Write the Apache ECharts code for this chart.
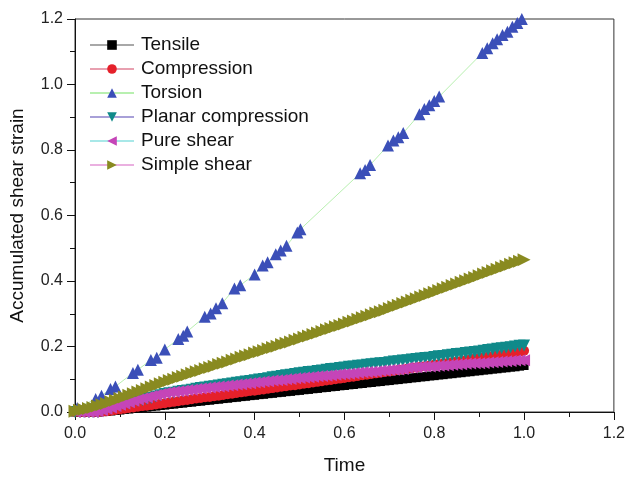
<!DOCTYPE html>
<html>
<head>
<meta charset="utf-8">
<script src="https://cdn.jsdelivr.net/npm/echarts@6/dist/echarts.min.js"></script>
<style>
	html, body { margin: 0; padding: 0; background: #fff; }
	#MyChart { width: 628px; height: 480px; }
</style>
</head>
<body>
<div id="MyChart"></div>
<script>
var time = [0.00, 0.01, 0.02, 0.03, 0.04, 0.05, 0.06, 0.07, 0.08, 0.09, 0.10,
	0.11, 0.12, 0.13, 0.14, 0.15, 0.16, 0.17, 0.18, 0.19, 0.20,
	0.21, 0.22, 0.23, 0.24, 0.25, 0.26, 0.27, 0.28, 0.29, 0.30,
	0.31, 0.32, 0.33, 0.34, 0.35, 0.36, 0.37, 0.38, 0.39, 0.40,
	0.41, 0.42, 0.43, 0.44, 0.45, 0.46, 0.47, 0.48, 0.49, 0.50,
	0.51, 0.52, 0.53, 0.54, 0.55, 0.56, 0.57, 0.58, 0.59, 0.60,
	0.61, 0.62, 0.63, 0.64, 0.65, 0.66, 0.67, 0.68, 0.69, 0.70,
	0.71, 0.72, 0.73, 0.74, 0.75, 0.76, 0.77, 0.78, 0.79, 0.80,
	0.81, 0.82, 0.83, 0.84, 0.85, 0.86, 0.87, 0.88, 0.89, 0.90,
	0.91, 0.92, 0.93, 0.94, 0.95, 0.96, 0.97, 0.98, 0.99, 1.00];

var tensile = [0, 0, 0, 0, 0, 0, 0.001, 0.002, 0.003, 0.005, 0.006,
	0.008, 0.009, 0.011, 0.012, 0.014, 0.015, 0.017, 0.018, 0.020, 0.021,
	0.023, 0.024, 0.026, 0.027, 0.029, 0.030, 0.032, 0.033, 0.035, 0.036,
	0.038, 0.039, 0.041, 0.042, 0.044, 0.045, 0.047, 0.048, 0.050, 0.051,
	0.053, 0.054, 0.056, 0.057, 0.059, 0.060, 0.062, 0.063, 0.065, 0.066,
	0.068, 0.069, 0.071, 0.072, 0.074, 0.075, 0.077, 0.078, 0.080, 0.081,
	0.083, 0.084, 0.086, 0.087, 0.089, 0.090, 0.092, 0.093, 0.095, 0.096,
	0.098, 0.099, 0.101, 0.102, 0.104, 0.105, 0.107, 0.108, 0.110, 0.111,
	0.113, 0.114, 0.116, 0.117, 0.119, 0.120, 0.122, 0.123, 0.125, 0.126,
	0.128, 0.129, 0.131, 0.132, 0.134, 0.135, 0.137, 0.138, 0.140, 0.142];

var compression = [0, 0, 0, 0, 0, 0, 0.001, 0.002, 0.004, 0.006, 0.008,
	0.010, 0.012, 0.014, 0.016, 0.018, 0.019, 0.021, 0.023, 0.025, 0.027,
	0.029, 0.031, 0.033, 0.035, 0.037, 0.039, 0.041, 0.043, 0.045, 0.046,
	0.048, 0.050, 0.052, 0.054, 0.056, 0.058, 0.060, 0.062, 0.064, 0.065,
	0.067, 0.069, 0.071, 0.073, 0.075, 0.077, 0.079, 0.081, 0.082, 0.084,
	0.086, 0.088, 0.090, 0.092, 0.094, 0.096, 0.098, 0.100, 0.102, 0.104,
	0.106, 0.108, 0.110, 0.112, 0.114, 0.116, 0.118, 0.120, 0.122, 0.124,
	0.126, 0.128, 0.130, 0.132, 0.134, 0.136, 0.138, 0.140, 0.142, 0.144,
	0.146, 0.148, 0.150, 0.152, 0.154, 0.156, 0.158, 0.161, 0.163, 0.165,
	0.167, 0.169, 0.171, 0.173, 0.175, 0.177, 0.179, 0.182, 0.184, 0.187];

var torsionTime = [0.005, 0.046, 0.059, 0.079, 0.090, 0.129, 0.140, 0.169, 0.182, 0.200,
	0.230, 0.241, 0.250, 0.289, 0.302, 0.314, 0.328, 0.355, 0.368, 0.400,
	0.418, 0.429, 0.447, 0.458, 0.471, 0.495, 0.502, 0.635, 0.646, 0.657,
	0.697, 0.709, 0.720, 0.731, 0.767, 0.778, 0.789, 0.800, 0.811, 0.907,
	0.918, 0.930, 0.940, 0.952, 0.963, 0.974, 0.985, 0.995];
var torsion = [0.012, 0.040, 0.050, 0.070, 0.078, 0.119, 0.129, 0.159, 0.166, 0.191,
	0.223, 0.233, 0.246, 0.291, 0.301, 0.317, 0.332, 0.377, 0.387, 0.420,
	0.447, 0.457, 0.482, 0.493, 0.508, 0.548, 0.558, 0.729, 0.739, 0.754,
	0.814, 0.829, 0.839, 0.852, 0.909, 0.925, 0.937, 0.950, 0.963, 1.096,
	1.111, 1.126, 1.138, 1.151, 1.161, 1.176, 1.188, 1.200];

var planar = [0, 0, 0, 0, 0, 0, 0.003, 0.007, 0.011, 0.015, 0.019,
	0.023, 0.027, 0.031, 0.034, 0.037, 0.040, 0.043, 0.047, 0.051, 0.055,
	0.057, 0.059, 0.062, 0.064, 0.066, 0.068, 0.071, 0.073, 0.075, 0.077,
	0.079, 0.081, 0.083, 0.085, 0.087, 0.089, 0.091, 0.093, 0.095, 0.097,
	0.099, 0.101, 0.103, 0.106, 0.108, 0.110, 0.112, 0.114, 0.116, 0.118,
	0.120, 0.122, 0.123, 0.125, 0.127, 0.129, 0.131, 0.132, 0.134, 0.136,
	0.138, 0.139, 0.141, 0.142, 0.144, 0.146, 0.147, 0.149, 0.150, 0.152,
	0.154, 0.155, 0.157, 0.158, 0.160, 0.162, 0.163, 0.165, 0.166, 0.168,
	0.170, 0.171, 0.173, 0.175, 0.177, 0.178, 0.180, 0.182, 0.183, 0.185,
	0.187, 0.189, 0.191, 0.193, 0.195, 0.196, 0.198, 0.200, 0.202, 0.203];

var pureShear = [0, 0, 0, 0, 0, 0.002, 0.006, 0.010, 0.014, 0.018, 0.022,
	0.026, 0.030, 0.034, 0.038, 0.042, 0.045, 0.049, 0.052, 0.055, 0.058,
	0.060, 0.062, 0.063, 0.065, 0.067, 0.068, 0.070, 0.072, 0.073, 0.075,
	0.076, 0.078, 0.079, 0.081, 0.082, 0.084, 0.085, 0.087, 0.088, 0.090,
	0.091, 0.093, 0.094, 0.096, 0.097, 0.098, 0.100, 0.101, 0.103, 0.104,
	0.105, 0.106, 0.108, 0.109, 0.110, 0.111, 0.112, 0.114, 0.115, 0.116,
	0.117, 0.118, 0.120, 0.121, 0.122, 0.123, 0.124, 0.126, 0.127, 0.128,
	0.129, 0.130, 0.131, 0.135, 0.136, 0.137, 0.138, 0.139, 0.139, 0.140,
	0.141, 0.142, 0.143, 0.144, 0.145, 0.146, 0.147, 0.148, 0.149, 0.149,
	0.150, 0.151, 0.152, 0.153, 0.154, 0.155, 0.156, 0.157, 0.158, 0.158];

var simpleShear = [0.002, 0.005, 0.008, 0.011, 0.014, 0.018, 0.022, 0.026, 0.031, 0.036, 0.041,
	0.046, 0.051, 0.056, 0.061, 0.066, 0.071, 0.076, 0.081, 0.086, 0.091,
	0.096, 0.100, 0.105, 0.109, 0.114, 0.118, 0.123, 0.127, 0.132, 0.136,
	0.140, 0.145, 0.149, 0.153, 0.158, 0.162, 0.167, 0.171, 0.175, 0.180,
	0.184, 0.188, 0.193, 0.197, 0.201, 0.206, 0.210, 0.214, 0.219, 0.223,
	0.228, 0.232, 0.237, 0.241, 0.246, 0.251, 0.255, 0.260, 0.264, 0.269,
	0.274, 0.278, 0.283, 0.288, 0.292, 0.297, 0.302, 0.306, 0.311, 0.316,
	0.321, 0.326, 0.331, 0.336, 0.341, 0.346, 0.351, 0.356, 0.361, 0.366,
	0.371, 0.376, 0.381, 0.386, 0.391, 0.396, 0.401, 0.406, 0.411, 0.416,
	0.421, 0.426, 0.431, 0.436, 0.441, 0.446, 0.451, 0.456, 0.460, 0.465];

var names = ['Tensile', 'Compression', 'Torsion', 'Planar compression', 'Pure shear', 'Simple shear'];

function pairs(xs, ys) {
	var out = [];
	for (var i = 0; i < ys.length; i++) out.push([xs[i], ys[i]]);
	return out;
}

function serie(name, data, symbol, size, rotate, markColor, lineColor) {
	return {
		name: name,
		type: 'line',
		data: data,
		symbol: symbol,
		symbolSize: size,
		symbolRotate: rotate,
		showSymbol: true,
		showAllSymbol: true,
		clip: false,
		itemStyle: { color: markColor },
		lineStyle: { color: lineColor, width: 1 }
	};
}

var font = '"Liberation Sans", Arial, sans-serif';

var option = {
	animation: false,
	backgroundColor: '#fff',
	grid: {
		left: 72, right: 14, top: 19, bottom: 64,
		show: true, borderColor: '#333', borderWidth: 1
	},
	legend: {
		data: names,
		orient: 'vertical',
		left: 84, top: 30,
		itemWidth: 44, itemHeight: 12, itemGap: 4,
		textStyle: { fontFamily: font, fontSize: 19, color: '#111', lineHeight: 20, padding: [0, 0, 0, 2] }
	},
	xAxis: {
		type: 'value', min: 0, max: 1.2, interval: 0.2,
		name: 'Time', nameLocation: 'middle', nameGap: 44,
		nameTextStyle: { fontFamily: font, fontSize: 19, color: '#111' },
		axisLine: { onZero: false, lineStyle: { color: '#111', width: 1 } },
		axisTick: { inside: false, length: 8, lineStyle: { color: '#111' } },
		minorTick: { show: true, splitNumber: 2, length: 5, lineStyle: { color: '#111' } },
		splitLine: { show: false },
		axisLabel: { fontFamily: font, fontSize: 16, color: '#222', margin: 14, formatter: function(v) { return v.toFixed(1); } }
	},
	yAxis: {
		type: 'value', min: 0, max: 1.2, interval: 0.2,
		name: 'Accumulated shear strain', nameLocation: 'middle', nameGap: 48,
		nameTextStyle: { fontFamily: font, fontSize: 19, color: '#111' },
		axisLine: { onZero: false, lineStyle: { color: '#111', width: 1 } },
		axisTick: { inside: false, length: 8, lineStyle: { color: '#111' } },
		minorTick: { show: true, splitNumber: 2, length: 5, lineStyle: { color: '#111' } },
		splitLine: { show: false },
		axisLabel: { fontFamily: font, fontSize: 16, color: '#222', margin: 12, formatter: function(v) { return v.toFixed(1); } }
	},
	series: [
		serie(names[0], pairs(time, tensile), 'rect', 9, 0, '#000000', '#a8a8a8'),
		serie(names[1], pairs(time, compression), 'circle', 10, 0, '#e5202a', '#e8a0b0'),
		serie(names[2], pairs(torsionTime, torsion), 'triangle', 12, 0, '#3b4fb8', '#b8f0b0'),
		serie(names[3], pairs(time, planar), 'triangle', 12, 180, '#108a8a', '#a8a0d8'),
		serie(names[4], pairs(time, pureShear), 'triangle', 12, 90, '#c545b8', '#a8e8e8'),
		serie(names[5], pairs(time, simpleShear), 'triangle', 13, -90, '#898a20', '#eab0e0')
	]
};

var myChart1 = echarts.init(document.getElementById('MyChart'));
myChart1.setOption(option);
</script>
</body>
</html>
